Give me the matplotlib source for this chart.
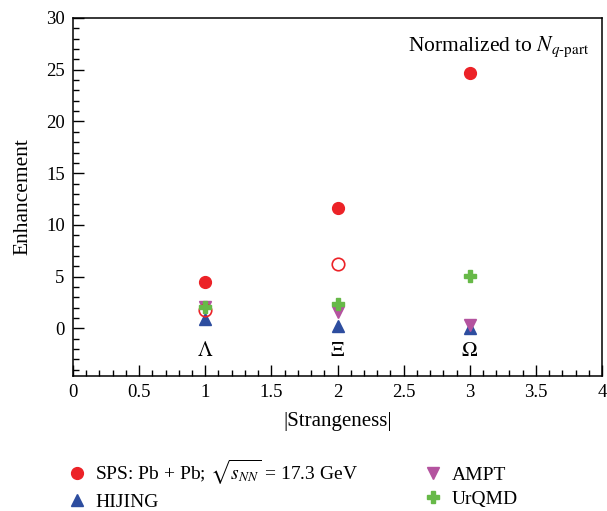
import matplotlib
matplotlib.use("Agg")
import matplotlib.pyplot as plt
from matplotlib.ticker import MultipleLocator

plt.rcParams['font.family'] = ['Liberation Serif', 'DejaVu Serif']
plt.rcParams['mathtext.fontset'] = 'stix'

strangeness = [1, 2, 3]
particles = [r'$\Lambda$', r'$\Xi$', r'$\Omega$']
sps_filled = [4.45, 11.65, 24.7]
sps_open_x = [1, 2]
sps_open = [1.75, 6.25]
hijing = [0.9, 0.25, 0.0]
ampt = [2.1, 1.6, 0.35]
urqmd = [2.1, 2.4, 5.1]

red = '#ec2227'
blue = '#2d4d9f'
mag = '#b4539f'
green = '#67b948'

fig = plt.figure(figsize=(6.07, 5.11), dpi=100)
ax = fig.add_axes([73/607, 1-376/511, (602-73)/607, (376-18)/511])

ax.plot(strangeness, hijing, '^', color=blue, ms=8, ls='none', label='HIJING', zorder=3)
ax.plot(strangeness, ampt, 'v', color=mag, ms=8, ls='none', label='AMPT', zorder=3)
ax.plot(sps_open_x, sps_open, 'o', mfc='none', mec=red, mew=1.2, ms=9, ls='none', zorder=4)
ax.plot(strangeness, urqmd, 'P', color=green, ms=8.5, ls='none', label='UrQMD', zorder=5)
ax.plot(strangeness, sps_filled, 'o', color=red, ms=8.5, ls='none',
        label=r'SPS: Pb + Pb; $\sqrt{s_{NN}}$ = 17.3 GeV', zorder=6)

for x, p in zip(strangeness, particles):
    ax.text(x, -2.2, p, ha='center', va='center', fontsize=15)

ax.text(0.975, 0.955, r'Normalized to $N_{q\text{-part}}$', transform=ax.transAxes,
        ha='right', va='top', fontsize=15.5)

ax.set_xlim(0, 4)
ax.set_ylim(-4.6, 30)
ax.xaxis.set_major_locator(MultipleLocator(0.5))
ax.xaxis.set_minor_locator(MultipleLocator(0.1))
ax.yaxis.set_major_locator(MultipleLocator(5))
ax.yaxis.set_minor_locator(MultipleLocator(1))
ax.set_xticks([0, 0.5, 1, 1.5, 2, 2.5, 3, 3.5, 4])
ax.set_xticklabels(['0', '0.5', '1', '1.5', '2', '2.5', '3', '3.5', '4'])
ax.tick_params(which='both', direction='in', top=False, right=False, labelsize=13.5)
ax.tick_params(which='major', length=8, width=1)
ax.tick_params(which='minor', length=4, width=1)
ax.tick_params(axis='x', pad=6)
ax.tick_params(axis='y', pad=6)
for s in ax.spines.values():
    s.set_linewidth(1.1)

ax.set_xlabel('|Strangeness|', fontsize=15, labelpad=8)
ax.set_ylabel('Enhancement', fontsize=15.5, labelpad=10)

h, l = ax.get_legend_handles_labels()
order = [3, 0, 1, 2]
fig.legend([h[i] for i in order], [l[i] for i in order], ncol=2,
           loc='upper left', bbox_to_anchor=(0.083, 0.134), frameon=False,
           fontsize=14, handletextpad=0.4, columnspacing=3.3, labelspacing=0.3,
           handlelength=1.1, borderpad=0.3)

fig.savefig('out.png', dpi=100)
